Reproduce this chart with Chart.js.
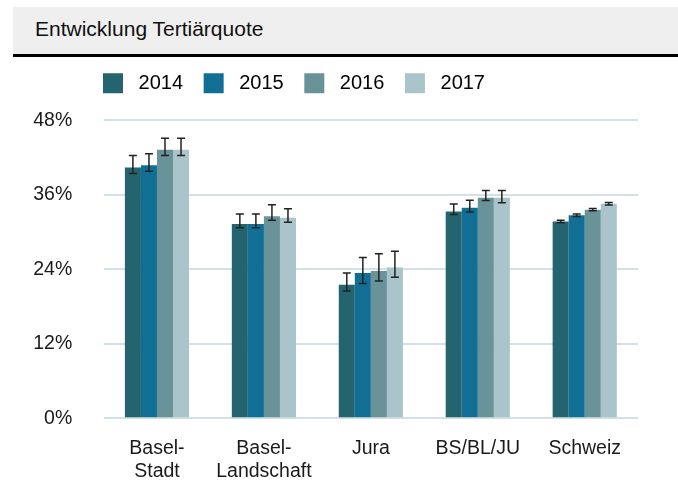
<!DOCTYPE html>
<html lang="de">
<head>
<meta charset="utf-8">
<title>Entwicklung Tertiärquote</title>
<script src="https://cdn.jsdelivr.net/npm/chart.js@4.4.1/dist/chart.umd.min.js"></script>
<style>
  html, body { margin: 0; padding: 0; background: #fff; }
  #wrap { position: relative; width: 678px; height: 480px; overflow: hidden; }
  #header { position: absolute; left: 13px; top: 7px; width: 665px; height: 47px; background: #efefef; border-bottom: 3px solid #000; }
  #header span { position: absolute; left: 22px; top: 0; font: 21px "Liberation Sans", Arial, sans-serif; line-height: 43px; color: #111; }
  canvas { position: absolute; left: 0; top: 0; }
</style>
</head>
<body>
<div id="wrap">
  <div id="header"><span>Entwicklung Tertiärquote</span></div>
  <canvas id="tertiaerChart" width="678" height="480"></canvas>
</div>
<script>
// Regionen und Jahre
const categories = [['Basel-', 'Stadt'], ['Basel-', 'Landschaft'], 'Jura', 'BS/BL/JU', 'Schweiz'];
const years = ['2014', '2015', '2016', '2017'];
const yearColors = ['#24646e', '#116f96', '#6a9399', '#a9c4cb'];

// Tertiärquote in %
const quote2014 = [40.4, 31.3, 21.5, 33.3, 31.7];
const quote2015 = [40.75, 31.3, 23.4, 33.9, 32.7];
const quote2016 = [43.25, 32.55, 23.7, 35.5, 33.6];
const quote2017 = [43.25, 32.3, 24.3, 35.5, 34.55];

// Vertrauensintervall (unten / oben)
const low2014 = [39.4, 30.7, 20.5, 32.8, 31.5];
const high2014 = [42.3, 32.9, 23.4, 34.5, 31.9];
const low2015 = [39.8, 30.7, 21.7, 33.2, 32.5];
const high2015 = [42.6, 32.9, 25.9, 35.1, 32.9];
const low2016 = [42.3, 31.9, 22.1, 35.05, 33.4];
const high2016 = [45.1, 34.4, 26.5, 36.7, 33.8];
const low2017 = [42.3, 31.55, 22.7, 34.7, 34.35];
const high2017 = [45.1, 33.75, 26.9, 36.7, 34.75];

// Achse
const yTicks = [0, 12, 24, 36, 48];

const seriesValues = [quote2014, quote2015, quote2016, quote2017];
const seriesLow = [low2014, low2015, low2016, low2017];
const seriesHigh = [high2014, high2015, high2016, high2017];

const FONT = '"Liberation Sans", Arial, sans-serif';

// Fehlerbalken über die y-Skala zeichnen
const errorBarPlugin = {
    id: 'errorBars',
    afterDatasetsDraw(chart) {
        const ctx = chart.ctx;
        const yScale = chart.scales.y;
        ctx.save();
        ctx.strokeStyle = '#222';
        ctx.lineWidth = 1.5;
        chart.data.datasets.forEach((ds, i) => {
            const meta = chart.getDatasetMeta(i);
            meta.data.forEach((bar, j) => {
                const top = yScale.getPixelForValue(ds.errHigh[j]);
                const bottom = yScale.getPixelForValue(ds.errLow[j]);
                const half = 4;
                ctx.beginPath();
                ctx.moveTo(bar.x, top);
                ctx.lineTo(bar.x, bottom);
                ctx.moveTo(bar.x - half, top);
                ctx.lineTo(bar.x + half, top);
                ctx.moveTo(bar.x - half, bottom);
                ctx.lineTo(bar.x + half, bottom);
                ctx.stroke();
            });
        });
        ctx.restore();
    }
};

// Legende an die Position im Original schieben
const legendShift = {
    id: 'legendShift',
    afterLayout(chart) {
        const lg = chart.legend;
        const pad = lg.options.labels.padding;
        lg.left = 103 - pad;
        lg.top = 73.3 - pad;
    }
};

const datasets = years.map((year, i) => ({
    label: year,
    data: seriesValues[i],
    errLow: seriesLow[i],
    errHigh: seriesHigh[i],
    backgroundColor: yearColors[i],
    borderWidth: 0,
    categoryPercentage: 0.6,
    barPercentage: 1.0
}));

new Chart(document.getElementById('tertiaerChart').getContext('2d'), {
    type: 'bar',
    data: { labels: categories, datasets: datasets },
    options: {
        responsive: false,
        animation: false,
        layout: { padding: { left: 0, right: 39.8, top: 69.6, bottom: 0 } },
        scales: {
            x: {
                grid: { display: false },
                border: { display: false },
                ticks: {
                    color: '#1a1a1a',
                    font: { family: FONT, size: 19.5, lineHeight: 1.16 },
                    padding: 11.5,
                    maxRotation: 0,
                    autoSkip: false
                },
                afterFit: (scale) => { scale.height = 61.7; }
            },
            y: {
                min: 0,
                max: 48,
                afterBuildTicks: (scale) => { scale.ticks = yTicks.map(v => ({ value: v })); },
                grid: { color: '#d2e1e7', lineWidth: 2, drawTicks: false },
                border: { display: false },
                ticks: {
                    color: '#1a1a1a',
                    font: { family: FONT, size: 19.5 },
                    padding: 31.2,
                    callback: (v) => v + '%'
                },
                afterFit: (scale) => { scale.width = 103.5; }
            }
        },
        plugins: {
            legend: {
                position: 'top',
                align: 'start',
                labels: {
                    boxWidth: 20,
                    boxHeight: 20,
                    padding: 20.6,
                    color: '#333',
                    font: { family: FONT, size: 20 },
                    generateLabels: (chart) => chart.data.datasets.map((ds, i) => ({
                        text: ' ' + ds.label,
                        fillStyle: ds.backgroundColor,
                        strokeStyle: ds.backgroundColor,
                        lineWidth: 0,
                        hidden: false,
                        datasetIndex: i
                    }))
                }
            },
            tooltip: { enabled: false }
        }
    },
    plugins: [errorBarPlugin, legendShift]
});
</script>
</body>
</html>
